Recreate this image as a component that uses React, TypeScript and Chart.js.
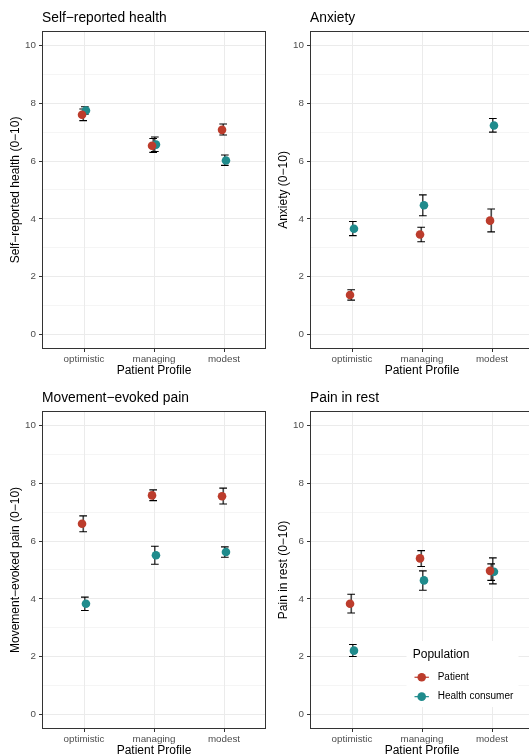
import React, { useEffect, useRef } from "react";
import { Chart, registerables } from "chart.js";

Chart.register(...registerables);
Chart.defaults.font.family = '"Liberation Sans", Arial, Helvetica, sans-serif';

// ---------- data ----------
const categories = ["optimistic", "managing", "modest"];
const seriesNames = ["Patient", "Health consumer"];
const seriesColors = ["#bc3c2c", "#1f8b8c"];
const legendTitle = "Population";
const xAxisTitle = "Patient Profile";
const yMajorTicks = [0, 2, 4, 6, 8, 10];
const yMinorTicks = [1, 3, 5, 7, 9];
const panelTitles = ["Self−reported health", "Anxiety", "Movement−evoked pain", "Pain in rest"];
const yAxisTitles = [
  "Self−reported health (0−10)",
  "Anxiety (0−10)",
  "Movement−evoked pain (0−10)",
  "Pain in rest (0−10)",
];

// Self-reported health
const healthPatientMean = [7.6, 6.53, 7.08];
const healthPatientLow = [7.4, 6.3, 6.9];
const healthPatientHigh = [7.8, 6.78, 7.28];
const healthConsumerMean = [7.75, 6.57, 6.02];
const healthConsumerLow = [7.62, 6.33, 5.85];
const healthConsumerHigh = [7.88, 6.83, 6.21];

// Anxiety
const anxietyPatientMean = [1.37, 3.46, 3.94];
const anxietyPatientLow = [1.19, 3.21, 3.55];
const anxietyPatientHigh = [1.55, 3.71, 4.34];
const anxietyConsumerMean = [3.66, 4.47, 7.23];
const anxietyConsumerLow = [3.42, 4.11, 7.0];
const anxietyConsumerHigh = [3.91, 4.83, 7.47];

// Movement-evoked pain
const movePatientMean = [6.6, 7.58, 7.55];
const movePatientLow = [6.32, 7.4, 7.28];
const movePatientHigh = [6.87, 7.77, 7.83];
const moveConsumerMean = [3.83, 5.51, 5.62];
const moveConsumerLow = [3.6, 5.2, 5.44];
const moveConsumerHigh = [4.06, 5.82, 5.8];

// Pain in rest
const restPatientMean = [3.83, 5.4, 4.97];
const restPatientLow = [3.51, 5.12, 4.64];
const restPatientHigh = [4.16, 5.67, 5.21];
const restConsumerMean = [2.21, 4.64, 4.94];
const restConsumerLow = [2.01, 4.3, 4.52];
const restConsumerHigh = [2.42, 4.97, 5.42];

const panelSeries = [
  [
    { mean: healthPatientMean, low: healthPatientLow, high: healthPatientHigh },
    { mean: healthConsumerMean, low: healthConsumerLow, high: healthConsumerHigh },
  ],
  [
    { mean: anxietyPatientMean, low: anxietyPatientLow, high: anxietyPatientHigh },
    { mean: anxietyConsumerMean, low: anxietyConsumerLow, high: anxietyConsumerHigh },
  ],
  [
    { mean: movePatientMean, low: movePatientLow, high: movePatientHigh },
    { mean: moveConsumerMean, low: moveConsumerLow, high: moveConsumerHigh },
  ],
  [
    { mean: restPatientMean, low: restPatientLow, high: restPatientHigh },
    { mean: restConsumerMean, low: restConsumerLow, high: restConsumerHigh },
  ],
];

// ---------- style / layout ----------
const pointDodge = [-0.028, 0.028];
const barDodge = [-0.012, 0.012];
const capHalfWidth = 0.055;
const CW = 268;
const CH = 380;
const panelPos = [
  { left: 0, top: 0 },
  { left: 268, top: 0 },
  { left: 0, top: 380 },
  { left: 268, top: 380 },
];

const errorBarPlugin = {
  id: "errorBars",
  beforeDatasetsDraw(chart: any) {
    const { ctx } = chart;
    const xs = chart.scales.x;
    const ys = chart.scales.y;
    ctx.save();
    ctx.strokeStyle = "#000";
    ctx.lineWidth = 1.1;
    const half = Math.abs(xs.getPixelForValue(1 + capHalfWidth) - xs.getPixelForValue(1));
    chart.data.datasets.forEach((ds: any) => {
      ds.errX.forEach((xv: number, i: number) => {
        const x = xs.getPixelForValue(xv);
        const y1 = ys.getPixelForValue(ds.errLow[i]);
        const y2 = ys.getPixelForValue(ds.errHigh[i]);
        ctx.beginPath();
        ctx.moveTo(x, y1);
        ctx.lineTo(x, y2);
        ctx.moveTo(x - half, y1);
        ctx.lineTo(x + half, y1);
        ctx.moveTo(x - half, y2);
        ctx.lineTo(x + half, y2);
        ctx.stroke();
      });
    });
    ctx.restore();
  },
};

const borderPlugin = {
  id: "panelBorder",
  afterDraw(chart: any) {
    const { ctx, chartArea: a } = chart;
    ctx.save();
    ctx.strokeStyle = "#333333";
    ctx.lineWidth = 1;
    const l = Math.round(a.left) + 0.5;
    const t = Math.round(a.top) + 0.5;
    const r = Math.round(a.right) - 0.5;
    const b = Math.round(a.bottom) - 0.5;
    ctx.strokeRect(l, t, r - l, b - t);
    ctx.restore();
  },
};

const legendPlugin = {
  id: "popLegend",
  afterDraw(chart: any) {
    const { ctx, chartArea: a } = chart;
    ctx.save();
    ctx.fillStyle = "#ffffff";
    ctx.fillRect(a.left + 96.5, a.top + 230, 112, 66);
    ctx.fillStyle = "#000";
    ctx.textBaseline = "middle";
    ctx.textAlign = "left";
    ctx.font = '12px "Liberation Sans", Arial, sans-serif';
    ctx.fillText(legendTitle, a.left + 102.7, a.top + 244);
    const itemY = [a.top + 266.3, a.top + 285.7];
    chart.data.datasets.forEach((ds: any, k: number) => {
      const mx = a.left + 111.7;
      const my = itemY[k];
      ctx.strokeStyle = ds.backgroundColor;
      ctx.lineWidth = 1.2;
      ctx.beginPath();
      ctx.moveTo(mx - 7.2, my);
      ctx.lineTo(mx + 7.2, my);
      ctx.stroke();
      ctx.fillStyle = ds.backgroundColor;
      ctx.beginPath();
      ctx.arc(mx, my, 4.3, 0, Math.PI * 2);
      ctx.fill();
      ctx.fillStyle = "#000";
      ctx.font = '10px "Liberation Sans", Arial, sans-serif';
      ctx.fillText(ds.label, a.left + 127.7, my);
    });
    ctx.restore();
  },
};

function Panel({ index }: { index: number }) {
  const ref = useRef<HTMLCanvasElement | null>(null);
  useEffect(() => {
    if (!ref.current) return;
    const series = panelSeries[index];
    const datasets = series.map((s, k) => ({
      type: "scatter" as const,
      label: seriesNames[k],
      data: s.mean.map((v, i) => ({ x: i + 1 + pointDodge[k], y: v })),
      errX: s.mean.map((_, i) => i + 1 + barDodge[k]),
      errLow: s.low,
      errHigh: s.high,
      backgroundColor: seriesColors[k],
      borderColor: seriesColors[k],
      pointRadius: 4.3,
      pointHoverRadius: 4.3,
      pointBorderWidth: 0,
      showLine: false,
    }));
    const plugins: any[] = [errorBarPlugin, borderPlugin];
    if (index === 3) plugins.push(legendPlugin);
    const chart = new Chart(ref.current, {
      type: "scatter",
      data: { datasets } as any,
      plugins,
      options: {
        animation: false,
        responsive: false,
        devicePixelRatio: 1,
        events: [],
        layout: { padding: { left: 0, right: 2, top: 0, bottom: 0 }, autoPadding: false },
        plugins: {
          legend: { display: false },
          tooltip: { enabled: false },
          title: {
            display: true,
            text: panelTitles[index],
            align: "start",
            fullSize: false,
            color: "#000",
            font: { size: 13.8, weight: "normal", lineHeight: 1.2 },
            padding: { top: 10, bottom: 4.4 },
          },
        },
        scales: {
          x: {
            type: "linear",
            min: 0.4,
            max: 3.6,
            afterBuildTicks: (s: any) => {
              s.ticks = categories.map((_, i) => ({ value: i + 1 }));
            },
            afterFit: (s: any) => {
              s.height = 31;
            },
            ticks: {
              callback: (v: any) => categories[Math.round(Number(v)) - 1] ?? "",
              autoSkip: false,
              maxRotation: 0,
              minRotation: 0,
              padding: 1,
              color: "#4d4d4d",
              font: { size: 9.8 },
            },
            grid: {
              color: "#ebebeb",
              lineWidth: 1,
              tickLength: 3,
              tickColor: "#333333",
              tickWidth: 1,
            },
            border: { display: false },
            title: {
              display: true,
              text: xAxisTitle,
              color: "#000",
              font: { size: 12, lineHeight: 1.2 },
              padding: { top: 0, bottom: 2 },
            },
          },
          y: {
            type: "linear",
            min: -0.5,
            max: 10.5,
            afterBuildTicks: (s: any) => {
              s.ticks = [...yMajorTicks, ...yMinorTicks]
                .sort((p, q) => p - q)
                .map((v) => ({ value: v }));
            },
            afterFit: (s: any) => {
              s.width = 42;
            },
            ticks: {
              callback: (v: any) => (yMajorTicks.includes(Number(v)) ? String(v) : ""),
              autoSkip: false,
              padding: 3,
              color: "#4d4d4d",
              font: { size: 9.8 },
            },
            grid: {
              color: "#ebebeb",
              lineWidth: (c: any) => (yMajorTicks.includes(c.tick?.value) ? 1 : 0.5),
              tickLength: 3,
              tickColor: (c: any) =>
                yMajorTicks.includes(c.tick?.value) ? "#333333" : "rgba(0,0,0,0)",
              tickWidth: 1,
            },
            border: { display: false },
            title: {
              display: true,
              text: yAxisTitles[index],
              color: "#000",
              font: { size: 12, lineHeight: 1.2 },
              padding: { top: 8, bottom: 0 },
            },
          },
        },
      } as any,
    });
    return () => chart.destroy();
  }, [index]);
  const p = panelPos[index];
  return (
    <canvas
      ref={ref}
      width={CW}
      height={CH}
      style={{ position: "absolute", left: p.left, top: p.top, width: CW, height: CH }}
    />
  );
}

export default function App() {
  return (
    <div
      style={{
        position: "absolute",
        left: 0,
        top: 0,
        width: 529,
        height: 756,
        overflow: "hidden",
        background: "#fff",
      }}
    >
      {[0, 1, 2, 3].map((i) => (
        <Panel key={i} index={i} />
      ))}
    </div>
  );
}
